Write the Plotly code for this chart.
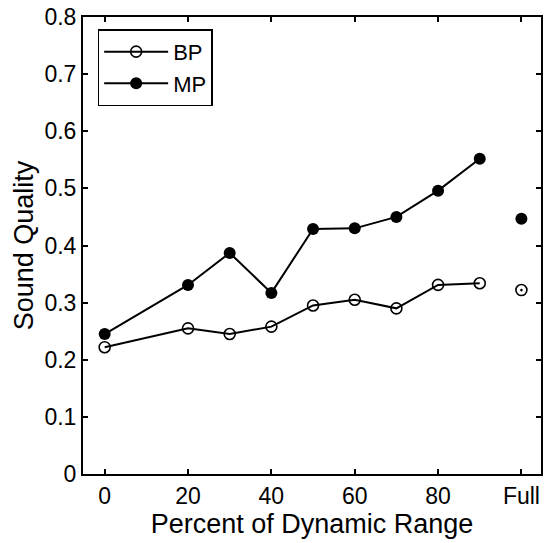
import plotly.graph_objects as go

levels = [0, 20, 30, 40, 50, 60, 70, 80, 90]
bp = [0.222, 0.255, 0.245, 0.258, 0.295, 0.305, 0.290, 0.331, 0.334]
mp = [0.245, 0.331, 0.387, 0.317, 0.429, 0.430, 0.450, 0.496, 0.552]
full_x = [100]
bp_full = [0.322]
mp_full = [0.447]
tick_vals = [0, 20, 40, 60, 80, 100]
tick_text = ["0", "20", "40", "60", "80", "Full"]

FONT = "Liberation Sans, Arial, Helvetica, sans-serif"

fig = go.Figure()
fig.add_trace(go.Scatter(
    x=levels, y=bp, name="BP", mode="lines+markers",
    line=dict(color="black", width=2),
    marker=dict(symbol="circle-open", size=11, color="black", line=dict(width=1.6)),
))
fig.add_trace(go.Scatter(
    x=levels, y=mp, name="MP", mode="lines+markers",
    line=dict(color="black", width=2),
    marker=dict(symbol="circle", size=12, color="black"),
))
fig.add_trace(go.Scatter(
    x=full_x, y=bp_full, mode="markers", showlegend=False,
    marker=dict(symbol="circle-open-dot", size=11, color="black", line=dict(width=1.6)),
))
fig.add_trace(go.Scatter(
    x=full_x, y=mp_full, mode="markers", showlegend=False,
    marker=dict(symbol="circle", size=12, color="black"),
))

axis_common = dict(
    showline=True, linecolor="black", linewidth=2, mirror="ticks",
    ticks="inside", ticklen=5, tickwidth=1.5, tickcolor="black",
    showgrid=False, zeroline=False,
    tickfont=dict(family=FONT, size=23, color="black"),
)

fig.update_layout(
    width=545, height=543,
    margin=dict(l=83, r=2, t=17, b=69),
    paper_bgcolor="white", plot_bgcolor="white",
    font=dict(family=FONT, color="black"),
    xaxis=dict(
        range=[-5.2, 104.7], tickvals=tick_vals, ticktext=tick_text,
        title=dict(text="Percent of Dynamic Range", font=dict(family=FONT, size=27), standoff=4),
        **axis_common,
    ),
    yaxis=dict(
        range=[0, 0.8], tickvals=[0, 0.1, 0.2, 0.3, 0.4, 0.5, 0.6, 0.7, 0.8],
        ticktext=["0", "0.1", "0.2", "0.3", "0.4", "0.5", "0.6", "0.7", "0.8"],
        title=dict(text="Sound Quality", font=dict(family=FONT, size=27), standoff=3),
        **axis_common,
    ),
    legend=dict(
        x=0.032, y=0.973, xanchor="left", yanchor="top",
        bordercolor="black", borderwidth=1.5, bgcolor="white",
        font=dict(family=FONT, size=22, color="black"),
        itemwidth=64, tracegroupgap=0,
    ),
    showlegend=True,
)

fig.write_html("out.html")
